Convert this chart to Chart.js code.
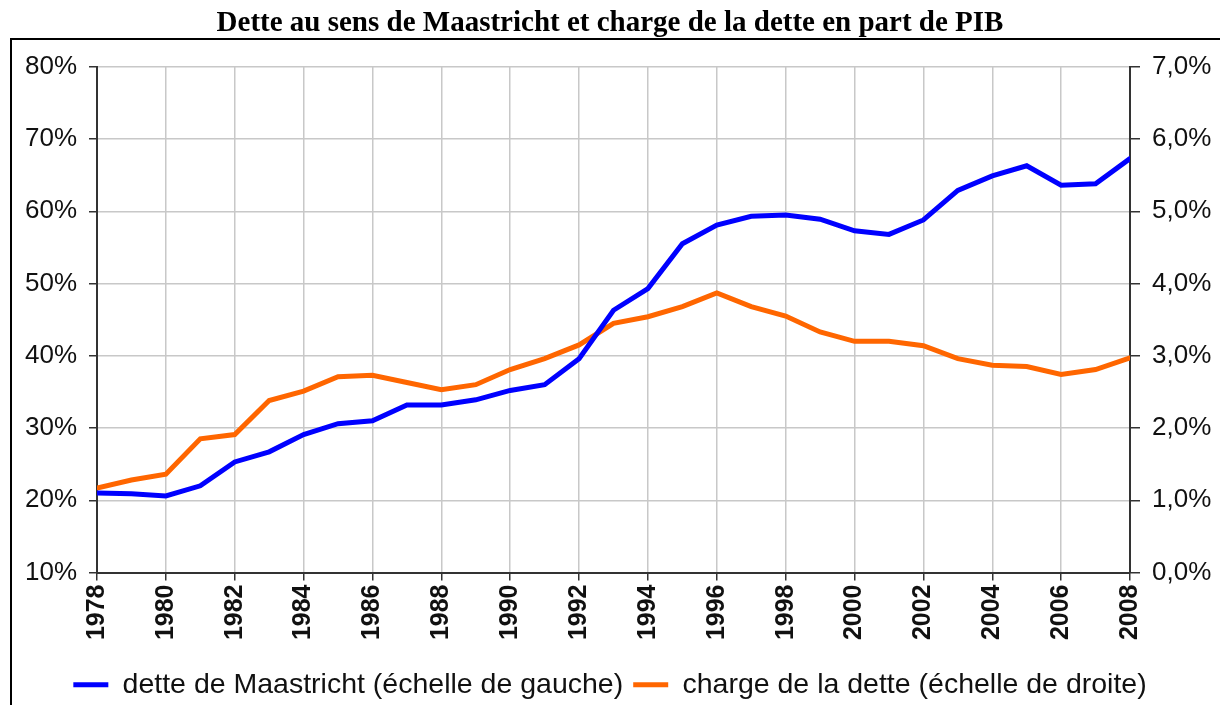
<!DOCTYPE html>
<html>
<head>
<meta charset="utf-8">
<script src="https://cdn.jsdelivr.net/npm/chart.js@4/dist/chart.umd.min.js"></script>
<style>
    html, body { margin: 0; padding: 0; background: #fff; }
    #wrap { width: 1220px; height: 705px; position: relative; }
</style>
</head>
<body>
<div id="wrap"><canvas id="debtChart" width="1220" height="705"></canvas></div>
<script>
const years = [1978, 1979, 1980, 1981, 1982, 1983, 1984, 1985, 1986, 1987, 1988, 1989, 1990, 1991, 1992, 1993, 1994, 1995, 1996, 1997, 1998, 1999, 2000, 2001, 2002, 2003, 2004, 2005, 2006, 2007, 2008];
// % du PIB, échelle de gauche
const detteMaastricht = [21.0, 20.9, 20.6, 22.0, 25.3, 26.7, 29.1, 30.6, 31.0, 33.2, 33.2, 33.9, 35.2, 36.0, 39.6, 46.3, 49.3, 55.5, 58.1, 59.3, 59.5, 58.9, 57.3, 56.8, 58.8, 62.9, 64.9, 66.3, 63.6, 63.8, 67.3];
// % du PIB, échelle de droite
const chargeDette = [1.17, 1.28, 1.36, 1.85, 1.91, 2.38, 2.51, 2.71, 2.73, 2.63, 2.53, 2.60, 2.81, 2.96, 3.15, 3.45, 3.54, 3.68, 3.87, 3.68, 3.55, 3.33, 3.20, 3.20, 3.14, 2.96, 2.87, 2.85, 2.74, 2.81, 2.97];
const leftTicks = { min: 10, max: 80, step: 10 };
const rightTicks = { min: 0, max: 7, step: 1 };

const toPoints = vals => years.map((y, i) => ({ x: y, y: vals[i] }));

// cadre noir (haut + gauche) autour du graphique
const framePlugin = {
    id: 'frame',
    beforeDraw(chart) {
        const ctx = chart.ctx;
        ctx.save();
        ctx.fillStyle = '#fff';
        ctx.fillRect(0, 0, chart.width, chart.height);
        ctx.strokeStyle = '#000';
        ctx.lineWidth = 2;
        ctx.beginPath();
        ctx.moveTo(11, 705);
        ctx.lineTo(11, 39);
        ctx.lineTo(1220, 39);
        ctx.stroke();
        ctx.restore();
    }
};

const tickFont = { family: "'Liberation Sans', Arial, sans-serif", size: 26 };

new Chart(document.getElementById('debtChart'), {
    type: 'line',
    data: {
        datasets: [{
            label: 'dette de Maastricht (échelle de gauche)',
            data: toPoints(detteMaastricht),
            yAxisID: 'yLeft',
            borderColor: '#0000ff',
            backgroundColor: '#0000ff',
            borderWidth: 5,
            borderCapStyle: 'round',
            pointRadius: 0,
            tension: 0
        }, {
            label: 'charge de la dette (échelle de droite)',
            data: toPoints(chargeDette),
            yAxisID: 'yRight',
            borderColor: '#ff6600',
            backgroundColor: '#ff6600',
            borderWidth: 5,
            borderCapStyle: 'round',
            pointRadius: 0,
            tension: 0
        }]
    },
    options: {
        responsive: false,
        animation: false,
        layout: { padding: { left: 0, right: 0, top: 0, bottom: -4 } },
        plugins: {
            title: {
                display: true,
                text: 'Dette au sens de Maastricht et charge de la dette en part de PIB',
                color: '#000',
                font: { family: "'Liberation Serif', 'Times New Roman', serif", size: 29, weight: 'bold' },
                padding: { top: 6, bottom: 26 }
            },
            legend: {
                position: 'bottom',
                labels: {
                    usePointStyle: true,
                    pointStyle: 'line',
                    pointStyleWidth: 35,
                    padding: 10,
                    color: '#111',
                    font: { family: "'Liberation Sans', Arial, sans-serif", size: 28.5 }
                }
            },
            tooltip: { enabled: false }
        },
        scales: {
            x: {
                type: 'linear',
                min: years[0],
                max: years[years.length - 1],
                afterFit: s => { s.height = 88; },
                ticks: {
                    stepSize: 2,
                    minRotation: 90,
                    maxRotation: 90,
                    padding: 4,
                    color: '#111',
                    font: { family: "'Liberation Sans', Arial, sans-serif", size: 25, weight: 'bold' },
                    callback: v => String(v)
                },
                grid: { color: '#c8c8c8', lineWidth: 1.5, tickLength: 8, tickColor: '#333' },
                border: { color: '#333', width: 2 }
            },
            yLeft: {
                position: 'left',
                min: leftTicks.min,
                max: leftTicks.max,
                afterFit: s => { s.width = 97; },
                ticks: {
                    stepSize: leftTicks.step,
                    padding: 12,
                    color: '#111',
                    font: tickFont,
                    callback: v => v + '%'
                },
                grid: { color: '#c8c8c8', lineWidth: 1.5, tickLength: 8, tickColor: '#333' },
                border: { color: '#333', width: 2 }
            },
            yRight: {
                position: 'right',
                min: rightTicks.min,
                max: rightTicks.max,
                afterFit: s => { s.width = 90; },
                ticks: {
                    stepSize: rightTicks.step,
                    padding: 12,
                    color: '#111',
                    font: tickFont,
                    callback: v => v.toFixed(1).replace('.', ',') + '%'
                },
                grid: { drawOnChartArea: false, tickLength: 10, tickColor: '#333', lineWidth: 1.5 },
                border: { color: '#333', width: 2 }
            }
        }
    },
    plugins: [framePlugin]
});
</script>
</body>
</html>
